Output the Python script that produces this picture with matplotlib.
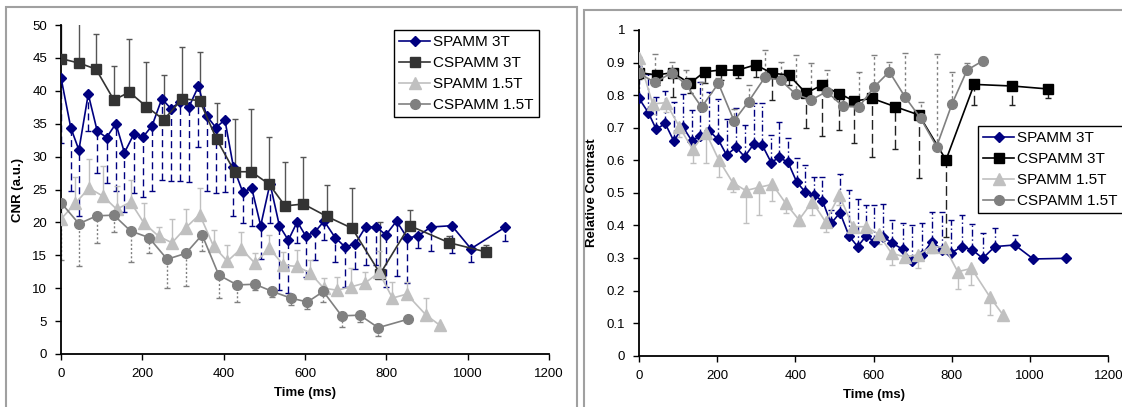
import matplotlib
matplotlib.use("Agg")
import matplotlib.pyplot as plt
from matplotlib.patches import Rectangle
from matplotlib.ticker import MultipleLocator, FuncFormatter

plt.rcParams['font.family'] = ['Liberation Sans', 'DejaVu Sans']

# ---- time points (ms) per series ----
t_spamm3 = [0, 24, 44, 67, 89, 112, 135, 156, 179, 202, 224, 248, 270, 293, 315, 338, 358, 381,
            403, 424, 447, 469, 491, 514, 537, 559, 581, 602, 625, 647, 674, 698, 723, 749, 775,
            799, 825, 852, 879, 910, 961, 1008, 1093]
t_cspamm3 = [0, 45, 86, 130, 168, 210, 253, 298, 341, 383, 427, 468, 512, 551, 596, 654, 716,
             785, 857, 955, 1046]
t_spamm15 = [0, 35, 69, 103, 137, 171, 204, 240, 273, 307, 341, 375, 409, 443, 477, 512, 547,
             581, 613, 646, 679, 713, 748, 782, 815, 850, 898, 931]
t_cspamm15_cnr = [0, 44, 88, 130, 171, 216, 261, 307, 347, 388, 433, 477, 520, 565, 606, 645,
                  690, 735, 780, 854]
t_cspamm15_rc = [0, 41, 84, 120, 160, 203, 243, 280, 322, 362, 401, 440, 480, 521, 563, 602,
                 640, 680, 720, 761, 800, 839, 880]

# ---- CNR (left panel) ----
cnr_spamm3 = [42.0, 34.4, 31.0, 39.5, 33.9, 32.9, 35.0, 30.6, 33.4, 33.0, 34.7, 38.8, 37.3, 38.3,
              37.6, 40.7, 36.2, 34.4, 35.6, 28.4, 24.6, 25.2, 19.5, 25.9, 19.5, 17.3, 20.1, 17.9,
              18.6, 20.2, 17.7, 16.3, 16.7, 19.3, 19.3, 18.1, 20.2, 17.6, 18.0, 19.3, 19.5, 16.0,
              19.3]
cnr_spamm3_err = [10, 9.7, 10, 5.6, 6.4, 6.9, 10.3, 9, 9, 9.1, 10, 12.4, 11, 12, 11.4, 9.3, 11.5,
                  10, 11, 7.5, 4.7, 5.7, 5, 6, 9.7, 8.1, 3.3, 6.2, 4.3, 2.8, 3.7, 6.1, 3.8, 5.8,
                  5.8, 7.9, 8.3, 6.8, 1.9, 3.7, 4.1, 2.0, 2.2]
cnr_cspamm3 = [44.9, 44.2, 43.3, 38.6, 39.8, 37.6, 35.6, 38.8, 38.5, 32.6, 27.7, 27.7, 25.8, 22.5,
               22.8, 20.9, 19.1, 12.2, 19.5, 16.9, 15.5]
cnr_cspamm3_err = [7, 7, 5.4, 5.1, 8, 6.8, 6.8, 7.9, 7.4, 5.5, 8, 9.5, 7.2, 6.7, 7.2, 4.8, 6.2,
                   7.9, 2.4, 1.0, 1.1]
cnr_spamm15 = [20.5, 22.9, 25.2, 24.0, 22.0, 23.1, 19.9, 17.9, 16.9, 19.2, 21.2, 16.4, 14.1, 16.0,
               13.8, 16.1, 13.5, 13.3, 12.3, 10.0, 9.7, 10.2, 10.8, 12.4, 8.5, 9.1, 5.9, 4.4]
cnr_spamm15_err = [3, 4, 4.4, 4.5, 3.5, 3.3, 3, 1.4, 3.6, 2.9, 4.1, 2.5, 2.4, 2.6, 1.5, 2, 2, 2.5,
                   2, 1.5, 2, 2.8, 1.6, 3.3, 2.5, 1.8, 2.6, 0]
cnr_cspamm15 = [23.0, 19.8, 21.0, 21.1, 18.7, 17.7, 14.4, 15.3, 18.1, 12.0, 10.5, 10.6, 9.5, 8.5,
                7.9, 9.5, 5.8, 5.9, 4.0, 5.3]
cnr_cspamm15_err = [8.7, 6.5, 4.1, 2.5, 4.7, 2.4, 4.4, 5.0, 2.5, 3.5, 2.6, 0.8, 0.8, 1, 1, 1.6,
                    1.7, 1, 1.3, 0.5]

# ---- Relative contrast (right panel) ----
rc_spamm3 = [0.790, 0.746, 0.695, 0.713, 0.659, 0.703, 0.660, 0.675, 0.690, 0.665, 0.616, 0.640,
             0.611, 0.649, 0.647, 0.593, 0.609, 0.594, 0.534, 0.504, 0.493, 0.476, 0.406, 0.439,
             0.368, 0.335, 0.368, 0.350, 0.365, 0.346, 0.327, 0.292, 0.310, 0.350, 0.325, 0.316,
             0.335, 0.325, 0.299, 0.335, 0.340, 0.297, 0.299]
rc_spamm3_err = [0.10, 0.12, 0.10, 0.10, 0.12, 0.10, 0.094, 0.166, 0.12, 0.122, 0.11, 0.12, 0.097,
                 0.128, 0.13, 0.085, 0.11, 0.073, 0.072, 0.082, 0.057, 0.074, 0.04, 0.12, 0.14,
                 0.145, 0.095, 0.113, 0.10, 0.071, 0.08, 0.11, 0.096, 0.09, 0.115, 0.10, 0.097,
                 0.08, 0.077, 0.056, 0.03, 0.005, 0.005]
rc_cspamm3 = [0.869, 0.862, 0.869, 0.836, 0.872, 0.877, 0.877, 0.893, 0.867, 0.862, 0.806, 0.831,
              0.804, 0.782, 0.790, 0.765, 0.739, 0.601, 0.833, 0.828, 0.819]
rc_cspamm3_err = [0.02, 0.03, 0.074, 0.03, 0.036, 0.03, 0.025, 0.036, 0.082, 0.03, 0.108, 0.155,
                  0.111, 0.13, 0.18, 0.131, 0.194, 0.236, 0.063, 0.058, 0.029]
rc_spamm15 = [0.913, 0.773, 0.777, 0.703, 0.634, 0.685, 0.601, 0.531, 0.507, 0.517, 0.526, 0.468,
              0.417, 0.473, 0.411, 0.493, 0.396, 0.396, 0.373, 0.314, 0.304, 0.309, 0.335, 0.333,
              0.258, 0.268, 0.179, 0.125]
rc_spamm15_err = [0.02, 0.03, 0.03, 0.03, 0.043, 0.094, 0.051, 0.027, 0.099, 0.085, 0.05, 0.03,
                  0.02, 0.04, 0.03, 0.03, 0.015, 0.03, 0.03, 0.036, 0.014, 0.041, 0.02, 0.02,
                  0.054, 0.051, 0.054, 0.0]
rc_cspamm15 = [0.867, 0.839, 0.869, 0.833, 0.763, 0.836, 0.721, 0.780, 0.855, 0.846, 0.803, 0.785,
               0.811, 0.766, 0.765, 0.826, 0.872, 0.795, 0.729, 0.642, 0.772, 0.877, 0.906]
rc_cspamm15_err = [0.05, 0.087, 0.034, 0.044, 0.078, 0.016, 0.036, 0.05, 0.084, 0.057, 0.12,
                   0.113, 0.066, 0.03, 0.107, 0.097, 0.03, 0.133, 0.05, 0.284, 0.1, 0.021, 0.01]

labels = ['SPAMM 3T', 'CSPAMM 3T', 'SPAMM 1.5T', 'CSPAMM 1.5T']
NAVY = '#000080'
LIGHT = '#c0c0c0'
MID = '#808080'


def err_bars(ax, t, v, e, color, ls, upper, z):
    zeros = [0] * len(e)
    yerr = [zeros, e] if upper else [e, zeros]
    _, caps, cols = ax.errorbar(t, v, yerr=yerr, fmt='none', ecolor=color, elinewidth=1,
                                capsize=2.5, capthick=1, zorder=z)
    for c in cols:
        c.set_linestyle(ls)
    # hide the cap on the side with no error
    if len(caps) == 2:
        caps[1 if not upper else 0].set_visible(False)


def series(ax, t, v, color, marker, ms, label, z):
    ax.plot(t, v, color=color, lw=1.2, marker=marker, ms=ms, mfc=color, mec=color,
            label=label, zorder=z)


def style_axes(ax):
    for s in ['top', 'right']:
        ax.spines[s].set_visible(False)
    for s in ['left', 'bottom']:
        ax.spines[s].set_linewidth(1.3)
    ax.set_xlim(0, 1200)
    ax.xaxis.set_major_locator(MultipleLocator(200))
    ax.tick_params(direction='out', length=4, width=1, labelsize=9.5, pad=6)
    ax.set_xlabel('Time (ms)', fontsize=9.5, fontweight='bold', labelpad=5)


def add_legend(ax, x, y):
    leg = ax.legend(loc='upper left', bbox_to_anchor=(x / 1122, 1 - y / 407),
                    bbox_transform=fig.transFigure, fontsize=11, frameon=True, fancybox=False,
                    edgecolor='black', framealpha=1, borderpad=0.35, labelspacing=0.45,
                    handlelength=2.0, handletextpad=0.2, borderaxespad=0)
    leg.get_frame().set_linewidth(1.0)


fig = plt.figure(figsize=(11.22, 4.07), dpi=100)

# panel borders
fig.patches.append(Rectangle((6 / 1122, -0.05), 571 / 1122, 1.05 - 7 / 407, transform=fig.transFigure,
                             fill=False, ec='#a0a0a0', lw=1.5))
fig.patches.append(Rectangle((584 / 1122, -0.05), 0.6, 1.05 - 10 / 407, transform=fig.transFigure,
                             fill=False, ec='#a0a0a0', lw=1.5))

# left panel: CNR
ax1 = fig.add_axes([61 / 1122, 53 / 407, 488 / 1122, 329 / 407])
err_bars(ax1, t_spamm3, cnr_spamm3, cnr_spamm3_err, NAVY, (0, (5, 3)), False, 1)
err_bars(ax1, t_cspamm3, cnr_cspamm3, cnr_cspamm3_err, '#555555', '-', True, 1)
err_bars(ax1, t_spamm15, cnr_spamm15, cnr_spamm15_err, LIGHT, '-', True, 1)
err_bars(ax1, t_cspamm15_cnr, cnr_cspamm15, cnr_cspamm15_err, MID, (0, (1.5, 1.5)), False, 1)
series(ax1, t_spamm3, cnr_spamm3, NAVY, 'D', 5.5, labels[0], 3)
series(ax1, t_cspamm3, cnr_cspamm3, '#333333', 's', 7, labels[1], 4)
series(ax1, t_spamm15, cnr_spamm15, LIGHT, '^', 8, labels[2], 5)
series(ax1, t_cspamm15_cnr, cnr_cspamm15, MID, 'o', 7, labels[3], 6)
style_axes(ax1)
ax1.set_ylim(0, 50)
ax1.yaxis.set_major_locator(MultipleLocator(5))
ax1.set_ylabel('CNR (a.u.)', fontsize=9.5, fontweight='bold', labelpad=6)
add_legend(ax1, 394, 30)

# right panel: relative contrast
ax2 = fig.add_axes([639 / 1122, 51.3 / 407, 469.3 / 1122, 325.7 / 407])
err_bars(ax2, t_spamm3, rc_spamm3, rc_spamm3_err, NAVY, (0, (5, 2, 1, 2)), True, 1)
err_bars(ax2, t_cspamm3, rc_cspamm3, rc_cspamm3_err, '#222222', (0, (7, 3)), False, 1)
err_bars(ax2, t_spamm15, rc_spamm15, rc_spamm15_err, LIGHT, '-', False, 1)
err_bars(ax2, t_cspamm15_rc, rc_cspamm15, rc_cspamm15_err, MID, (0, (2, 2)), True, 1)
series(ax2, t_spamm3, rc_spamm3, NAVY, 'D', 5.5, labels[0], 3)
series(ax2, t_cspamm3, rc_cspamm3, 'black', 's', 7, labels[1], 4)
series(ax2, t_spamm15, rc_spamm15, LIGHT, '^', 8, labels[2], 5)
series(ax2, t_cspamm15_rc, rc_cspamm15, MID, 'o', 7, labels[3], 6)
style_axes(ax2)
ax2.set_ylim(0, 1)
ax2.yaxis.set_major_locator(MultipleLocator(0.1))
ax2.yaxis.set_major_formatter(FuncFormatter(lambda v, p: '%g' % round(v, 1)))
ax2.set_ylabel('Relative Contrast', fontsize=9.5, fontweight='bold', labelpad=6)
add_legend(ax2, 978, 126)

fig.savefig('out.png', dpi=100)
